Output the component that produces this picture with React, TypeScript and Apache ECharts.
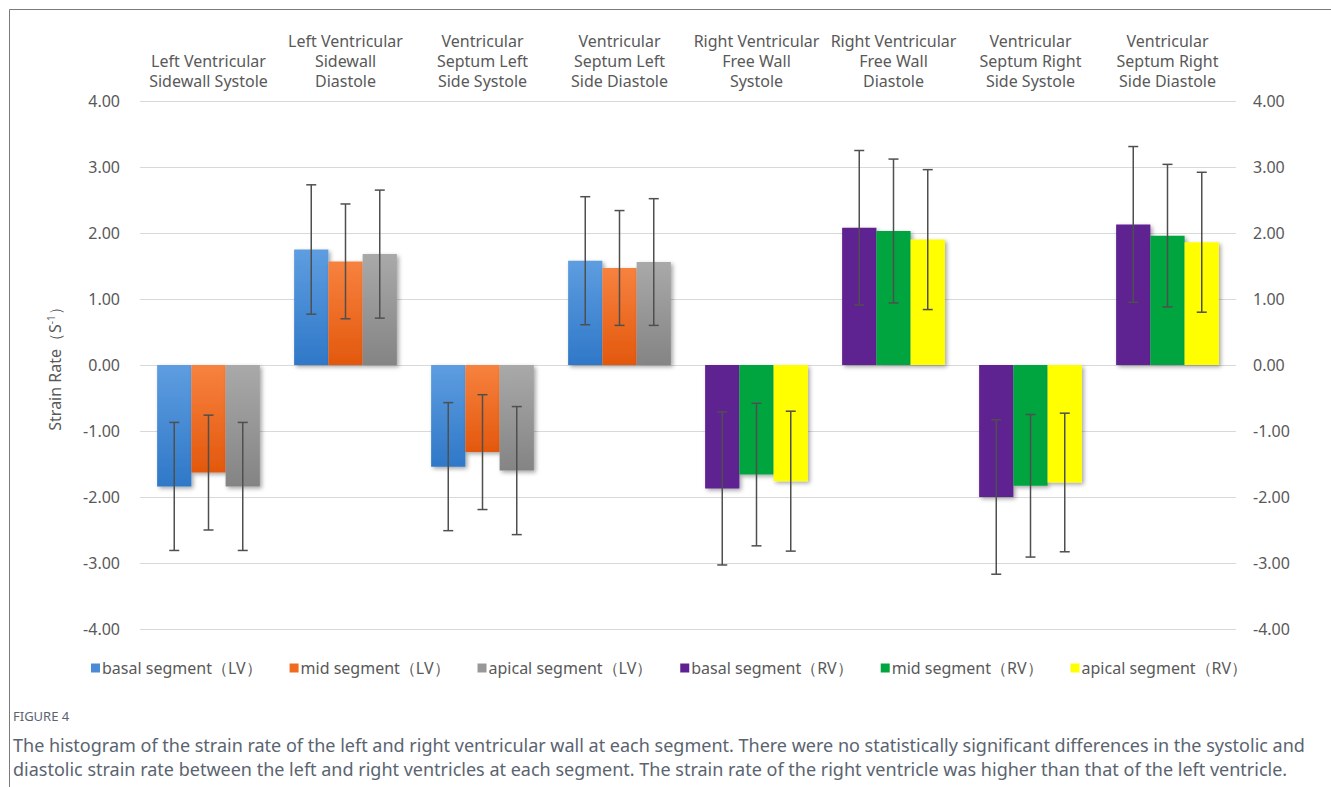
import React, { useEffect, useRef } from "react";
import * as echarts from "echarts";

// Segment categories (top axis labels)
const categories = [
  "Left Ventricular\nSidewall Systole",
  "Left Ventricular\nSidewall\nDiastole",
  "Ventricular\nSeptum Left\nSide Systole",
  "Ventricular\nSeptum Left\nSide Diastole",
  "Right Ventricular\nFree Wall\nSystole",
  "Right Ventricular\nFree Wall\nDiastole",
  "Ventricular\nSeptum Right\nSide Systole",
  "Ventricular\nSeptum Right\nSide Diastole",
];

// Mean strain rate (S^-1) and standard deviation per segment
const basalMean = [-1.84, 1.75, -1.54, 1.58, -1.87, 2.08, -2.0, 2.13];
const basalSD = [0.97, 0.98, 0.97, 0.97, 1.16, 1.17, 1.17, 1.18];
const midMean = [-1.63, 1.57, -1.32, 1.47, -1.66, 2.03, -1.83, 1.96];
const midSD = [0.87, 0.87, 0.87, 0.87, 1.08, 1.09, 1.08, 1.08];
const apicalMean = [-1.84, 1.68, -1.6, 1.56, -1.76, 1.9, -1.78, 1.86];
const apicalSD = [0.97, 0.97, 0.97, 0.96, 1.06, 1.06, 1.05, 1.06];

// First four categories belong to the left ventricle, last four to the right
const lvCount = 4;

const seriesNames = [
  "basal segment（LV）",
  "mid segment（LV）",
  "apical segment（LV）",
  "basal segment（RV）",
  "mid segment（RV）",
  "apical segment（RV）",
];

const yTicks = { min: -4, max: 4, interval: 1 };

const captionTitle = "FIGURE 4";
const captionLines = [
  "The histogram of the strain rate of the left and right ventricular wall at each segment. There were no statistically significant differences in the systolic and",
  "diastolic strain rate between the left and right ventricles at each segment. The strain rate of the right ventricle was higher than that of the left ventricle.",
];

const FONT = "'Noto Sans', sans-serif";
const TEXT = "#595959";

const grad = (top: string, bottom: string) =>
  new echarts.graphic.LinearGradient(0, 0, 0, 1, [
    { offset: 0, color: top },
    { offset: 1, color: bottom },
  ]);

const fills = [
  grad("#5e9de0", "#2f78c8"),
  grad("#f7823f", "#e3580d"),
  grad("#a9a9a9", "#848484"),
  "#5f2191",
  "#00a540",
  "#ffff00",
];

const legendColors = ["#4a8ad6", "#f06a22", "#989898", "#5f2191", "#00a540", "#ffff00"];

const slotMeans = [basalMean, midMean, apicalMean];
const slotSDs = [basalSD, midSD, apicalSD];
const stacks = ["basal", "mid", "apical"];

export default function App() {
  const ref = useRef<HTMLDivElement>(null);

  useEffect(() => {
    document.body.style.margin = "0";
    const chart = echarts.init(ref.current!, undefined, { renderer: "svg" });

    const barSeries = seriesNames.map((name, s) => {
      const slot = s % 3;
      const isRV = s >= 3;
      const data = slotMeans[slot].map((v, i) =>
        (i < lvCount) !== isRV ? v : "-"
      );
      return {
        name,
        type: "bar",
        stack: stacks[slot],
        barCategoryGap: "25%",
        barGap: "0%",
        data,
        itemStyle: {
          color: fills[s],
          shadowColor: "rgba(0,0,0,0.35)",
          shadowBlur: 4,
          shadowOffsetX: 2,
          shadowOffsetY: 2,
        },
        z: 2,
      };
    });

    // error bar records: [category, slot, mean, sd]
    const errData: number[][] = [];
    for (let slot = 0; slot < 3; slot++) {
      for (let i = 0; i < categories.length; i++) {
        errData.push([i, slot, slotMeans[slot][i], slotSDs[slot][i]]);
      }
    }

    const errorSeries = {
      type: "custom",
      name: "error",
      data: errData,
      encode: { x: 0, y: 2 },
      z: 5,
      silent: true,
      renderItem: (params: any, api: any) => {
        const cat = api.value(0);
        const slot = api.value(1);
        const mean = api.value(2);
        const sd = api.value(3);
        const band = api.size([1, 0])[0];
        const barW = (band * 0.75) / 3;
        const x = api.coord([cat, 0])[0] + (slot - 1) * barW;
        const yHi = api.coord([cat, mean + sd])[1];
        const yLo = api.coord([cat, mean - sd])[1];
        const cap = 5;
        const style = { stroke: "#4f4f4f", lineWidth: 1.5 };
        return {
          type: "group",
          children: [
            { type: "line", shape: { x1: x, y1: yHi, x2: x, y2: yLo }, style },
            { type: "line", shape: { x1: x - cap, y1: yHi, x2: x + cap, y2: yHi }, style },
            { type: "line", shape: { x1: x - cap, y1: yLo, x2: x + cap, y2: yLo }, style },
          ],
        };
      },
    };

    const yLabel = {
      color: TEXT,
      fontSize: 16,
      fontFamily: FONT,
      formatter: (v: number) => v.toFixed(2),
    };

    chart.setOption({
      animation: false,
      textStyle: { fontFamily: FONT },
      grid: { left: 140, right: 95, top: 101, bottom: 158 },
      legend: {
        data: seriesNames.map((n, i) => ({
          name: n,
          itemStyle: { color: legendColors[i] },
        })),
        left: 86,
        top: 655,
        icon: "rect",
        itemWidth: 9,
        itemHeight: 9,
        itemGap: 28,
        textStyle: { color: TEXT, fontSize: 16, fontFamily: FONT, padding: [0, 0, 0, -3] },
      },
      xAxis: {
        type: "category",
        position: "top",
        data: categories,
        axisLine: { show: false },
        axisTick: { show: false },
        splitLine: { show: false },
        axisLabel: {
          interval: 0,
          margin: 10,
          color: TEXT,
          fontSize: 16,
          lineHeight: 20,
          fontFamily: FONT,
        },
      },
      yAxis: [
        {
          type: "value",
          ...yTicks,
          name: "Strain Rate（S{sup|-1}）",
          nameLocation: "middle",
          nameGap: 76,
          nameTextStyle: {
            color: TEXT,
            fontSize: 16,
            fontFamily: FONT,
            rich: {
              sup: { fontSize: 10, color: TEXT, fontFamily: FONT, padding: [0, 0, 8, 0] },
            },
          },
          axisLine: { show: false },
          axisTick: { show: false },
          axisLabel: { ...yLabel, margin: 20 },
          splitLine: { lineStyle: { color: "#d9d9d9", width: 1.2 } },
        },
        {
          type: "value",
          ...yTicks,
          position: "right",
          axisLine: { show: false },
          axisTick: { show: false },
          axisLabel: { ...yLabel, margin: 17 },
          splitLine: { show: false },
        },
      ],
      series: [...barSeries, errorSeries],
      graphic: [
        {
          type: "line",
          shape: { x1: 9.5, y1: 9.5, x2: 1331, y2: 9.5 },
          style: { stroke: "#7a7a7a", lineWidth: 1 },
          silent: true,
        },
        {
          type: "line",
          shape: { x1: 9.5, y1: 9.5, x2: 9.5, y2: 787 },
          style: { stroke: "#7a7a7a", lineWidth: 1 },
          silent: true,
        },
        {
          type: "text",
          left: 13,
          top: 709,
          style: { text: captionTitle, fill: "#5a6470", fontSize: 13, fontFamily: FONT },
        },
        {
          type: "text",
          left: 13,
          top: 733,
          style: {
            text: captionLines.join("\n"),
            fill: "#5a6470",
            fontSize: 18,
            lineHeight: 24,
            fontFamily: FONT,
          },
        },
      ],
    });

    return () => chart.dispose();
  }, []);

  return <div ref={ref} style={{ width: 1331, height: 787 }} />;
}
